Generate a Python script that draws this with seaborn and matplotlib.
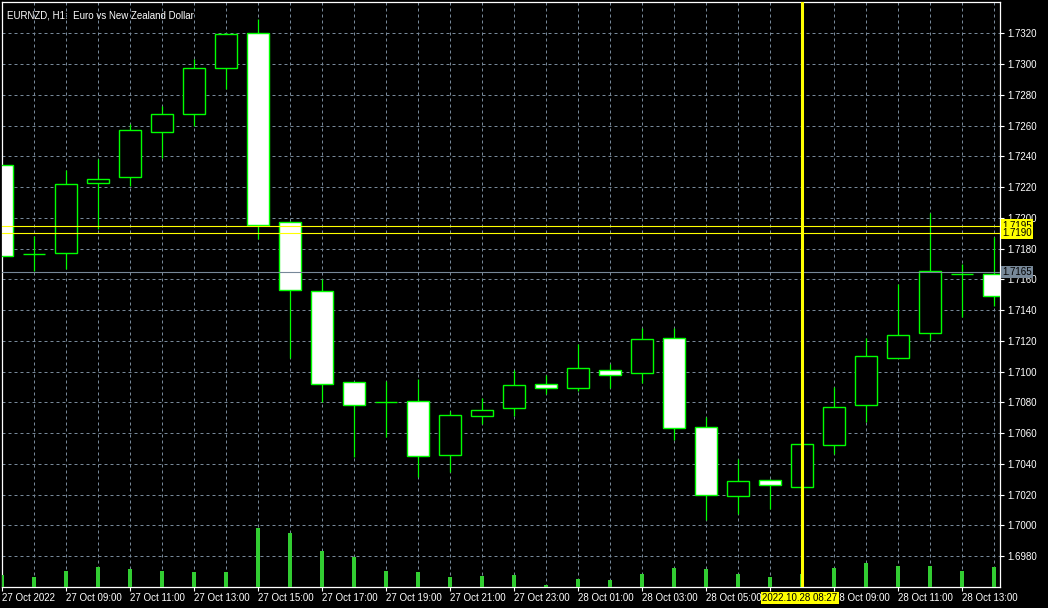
import numpy as np
import pandas as pd
import seaborn as sns
import matplotlib.pyplot as plt

## EURNZD H1 bars, 27 Oct 2022 07:00 -> 28 Oct 2022 14:00 ======================
opens = [1.72342, 1.71763, 1.71770, 1.72230, 1.72264, 1.72560, 1.72677, 1.72976,
         1.73200, 1.71971, 1.71522, 1.70931, 1.70801, 1.70807, 1.70456, 1.70710,
         1.70762, 1.70918, 1.70896, 1.71009, 1.70989, 1.71217, 1.70638, 1.70190,
         1.70299, 1.70248, 1.70521, 1.70781, 1.71087, 1.71249, 1.71634, 1.71637]
highs = [1.72345, 1.71882, 1.72311, 1.72385, 1.72610, 1.72727, 1.73033, 1.73200,
         1.73293, 1.71978, 1.71600, 1.70933, 1.70939, 1.70952, 1.70746, 1.70827,
         1.71013, 1.70978, 1.71178, 1.71048, 1.71286, 1.71286, 1.70703, 1.70434,
         1.70300, 1.70535, 1.70898, 1.71219, 1.71568, 1.72034, 1.71700, 1.71877]
lows = [1.71748, 1.71655, 1.71669, 1.71928, 1.72209, 1.72387, 1.72599, 1.72840,
        1.71865, 1.71087, 1.70805, 1.70447, 1.70577, 1.70315, 1.70350, 1.70660,
        1.70712, 1.70853, 1.70876, 1.70892, 1.70928, 1.70554, 1.70034, 1.70073,
        1.70107, 1.70240, 1.70465, 1.70673, 1.71087, 1.71206, 1.71357, 1.71429]
closes = [1.71750, 1.71763, 1.72218, 1.72251, 1.72569, 1.72673, 1.72972, 1.73195,
          1.71956, 1.71529, 1.70918, 1.70785, 1.70801, 1.70450, 1.70716, 1.70749,
          1.70911, 1.70892, 1.71022, 1.70976, 1.71210, 1.70632, 1.70196, 1.70287,
          1.70261, 1.70528, 1.70768, 1.71100, 1.71236, 1.71653, 1.71638, 1.71490]
volumes = [600, 510, 820, 1020, 920, 820, 770, 770,
           3010, 2750, 1840, 1530, 820, 770, 510, 560,
           610, 120, 420, 360, 680, 980, 920, 680,
           510, 650, 980, 1240, 1070, 1070, 820, 1020]

time_labels = ["27 Oct 2022", "27 Oct 09:00", "27 Oct 11:00", "27 Oct 13:00",
               "27 Oct 15:00", "27 Oct 17:00", "27 Oct 19:00", "27 Oct 21:00",
               "27 Oct 23:00", "28 Oct 01:00", "28 Oct 03:00", "28 Oct 05:00",
               "28 Oct 07:00", "28 Oct 09:00", "28 Oct 11:00", "28 Oct 13:00"]
price_ticks = np.round(np.arange(1.6980, 1.73201, 0.0020), 4)

chart_title = "EURNZD, H1:  Euro vs New Zealand Dollar"
line_levels = [1.7195, 1.7190]   # yellow horizontal lines
bid_level = 1.7165               # grey price line
cross_idx = 25                   # vertical crosshair bar
cross_label = "2022.10.28 08:27"

## Style: ======================================================================
sns.set_theme(style="dark", rc={"figure.facecolor": "black", "axes.facecolor": "black",
                                "savefig.facecolor": "black"})
plt.rcParams["font.family"] = ["Liberation Sans", "DejaVu Sans"]

up_fill, dn_fill, edge = "black", "white", "#00ff00"
vol_col, grid_col, mark_col = "#32cd32", "#778899", "#ffff00"

df = pd.DataFrame({"open": opens, "high": highs, "low": lows,
                   "close": closes, "volume": volumes})
df["idx"] = np.arange(len(df))
bull = df["close"] >= df["open"]

W, H = 1048, 608
fig = plt.figure(figsize=(W / 100, H / 100), dpi=100)
ax = fig.add_axes([2 / W, 21 / H, 998 / W, 585 / H])
ax_vol = ax.twinx()

## Volume (seaborn): -----------------------------------------------------------
sns.barplot(data=df, x="idx", y="volume", native_scale=True, width=0.1,
            color=vol_col, saturation=1, errorbar=None, linewidth=0, ax=ax_vol)
ax_vol.set_ylim(0, 29800)
ax_vol.set_yticks([])
ax_vol.set_ylabel("")
ax_vol.set_xlabel("")
for sp in ax_vol.spines.values():
    sp.set_visible(False)
ax_vol.axvline(cross_idx, color=mark_col, lw=2.2, zorder=5)

## Candles: --------------------------------------------------------------------
ax.vlines(df["idx"], df["low"], df["high"], color=edge, lw=0.9, zorder=2)
body_lo = df[["open", "close"]].min(axis=1)
body_h = (df["close"] - df["open"]).abs()
ax.bar(df["idx"], body_h, bottom=body_lo, width=0.69,
       color=np.where(bull, up_fill, dn_fill), edgecolor=edge, linewidth=1.0, zorder=3)

for lv in line_levels:
    ax.axhline(lv, color=mark_col, lw=0.8, zorder=4)
ax.axhline(bid_level, color=grid_col, lw=0.8, zorder=4)

## Axes: -----------------------------------------------------------------------
ax.set_xlim(0, 31 + 6 / 32)
ax.set_ylim(1.69600, 1.73404)
ax.set_xticks(np.arange(0, 32, 2))
ax.set_xticklabels(time_labels)
ax.set_xticks(np.arange(1, 32, 2), minor=True)
for lbl in ax.get_xticklabels():
    lbl.set_ha("left")
ax.yaxis.tick_right()
ax.set_yticks(price_ticks)
ax.set_yticklabels(["{:.4f}".format(p) for p in price_ticks])
ax.tick_params(axis="x", which="major", length=3, width=0.8, color="white",
               labelcolor="white", labelsize=7, pad=1.5, bottom=True)
ax.tick_params(axis="x", which="minor", length=0, bottom=True)
ax.tick_params(axis="y", length=3, width=0.8, color="white",
               labelcolor="white", labelsize=7, pad=2, right=True, left=False)
ax.grid(True, which="both", color=grid_col, linestyle=(0, (3, 3)), linewidth=0.72)
ax.set_axisbelow(True)
for sp in ax.spines.values():
    sp.set_visible(True)
    sp.set_color("white")
    sp.set_linewidth(0.9)

ax.text(0.005, 0.985, chart_title, transform=ax.transAxes, color="white",
        fontsize=7, ha="left", va="top")

## Price / time labels: --------------------------------------------------------
ytr = ax.get_yaxis_transform()
for lv in line_levels:
    ax.text(1.0025, lv, "{:.4f}".format(lv), transform=ytr, fontsize=7, color="black",
            ha="left", va="center", clip_on=False, zorder=10,
            bbox=dict(boxstyle="square,pad=0.12", fc=mark_col, ec="none"))
ax.text(1.0025, bid_level, "{:.4f}".format(bid_level), transform=ytr, fontsize=7,
        color="black", ha="left", va="center", clip_on=False, zorder=10,
        bbox=dict(boxstyle="square,pad=0.12", fc=grid_col, ec="none"))
fig.text(800 / W, 1 - 598 / H, cross_label, fontsize=7, color="black",
         ha="center", va="center",
         bbox=dict(boxstyle="square,pad=0.15", fc=mark_col, ec="none"))

fig.savefig("out.png", dpi=100)
